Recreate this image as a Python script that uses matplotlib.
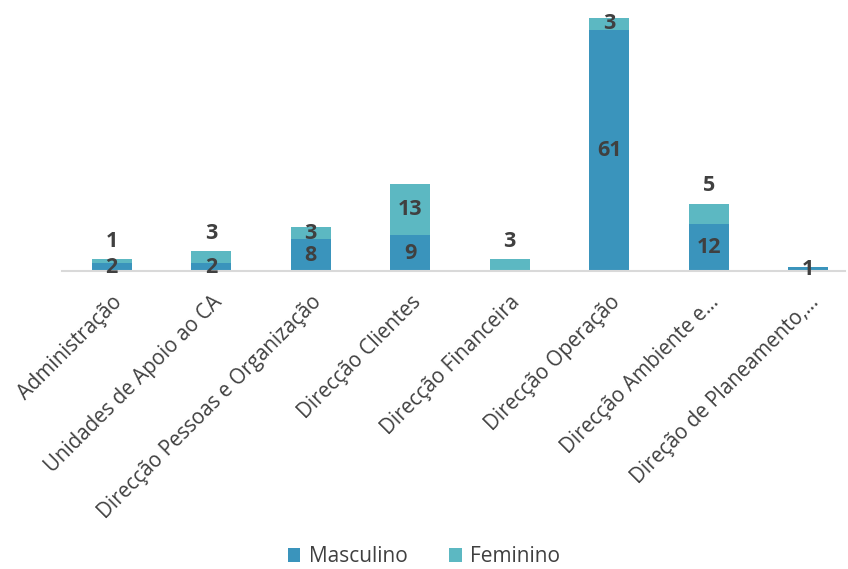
import numpy as np
import matplotlib.pyplot as plt

plt.rcParams['font.family'] = ['Open Sans', 'DejaVu Sans']

categorias = ["Administração", "Unidades de Apoio ao CA", "Direcção Pessoas e Organização",
              "Direcção Clientes", "Direcção Financeira", "Direcção Operação",
              "Direcção Ambiente e…", "Direção de Planeamento,…"]
masculino = [2, 2, 8, 9, 0, 61, 12, 1]
feminino = [1, 3, 3, 13, 3, 3, 5, 0]
# where the Feminino value label sits: inside the segment or above the bar
fem_pos = ["above", "above", "center", "center", "above", "center", "above", "center"]

cor_m = "#3A94BC"
cor_f = "#5CB8C2"
cor_txt = "#404040"

fig = plt.figure(figsize=(8.48, 5.69), dpi=100)
ax = fig.add_axes([62/848, 1 - 271/569, (845-62)/848, (271-8)/569])

x = np.arange(len(categorias))
larg = 0.4
b1 = ax.bar(x, masculino, larg, color=cor_m, label="Masculino")
b2 = ax.bar(x, feminino, larg, bottom=masculino, color=cor_f, label="Feminino")

fs_num = 15.5
for i in range(len(categorias)):
    if masculino[i] > 0:
        ax.text(x[i], masculino[i] / 2, str(masculino[i]), ha='center', va='center',
                fontsize=fs_num, fontweight='bold', color=cor_txt)
    if feminino[i] > 0:
        if fem_pos[i] == "center":
            ax.text(x[i], masculino[i] + feminino[i] / 2, str(feminino[i]), ha='center',
                    va='center', fontsize=fs_num, fontweight='bold', color=cor_txt)
        else:
            ax.annotate(str(feminino[i]), (x[i], masculino[i] + feminino[i]),
                        xytext=(0, 13), textcoords='offset points', ha='center',
                        va='center', fontsize=fs_num, fontweight='bold', color=cor_txt)

ax.set_xlim(-0.5, 7.37)
ax.set_ylim(0, 66.5)
ax.set_yticks([])
for s in ['top', 'right', 'left']:
    ax.spines[s].set_visible(False)
ax.spines['bottom'].set_color('#D9D9D9')
ax.spines['bottom'].set_linewidth(1.5)

ax.set_xticks(x)
ax.set_xticklabels(categorias, rotation=45, ha='right', va='top', rotation_mode='anchor',
                   fontsize=14.8, color=cor_txt)
ax.tick_params(axis='x', length=0, pad=15)

fig.legend(handles=[b1, b2], loc='lower center', bbox_to_anchor=(0.5, -0.03), ncol=2,
           frameon=False, fontsize=15, handlelength=0.6, handleheight=0.6,
           handletextpad=0.4, columnspacing=2.0, labelcolor=cor_txt)

fig.savefig("out.png", dpi=100)
